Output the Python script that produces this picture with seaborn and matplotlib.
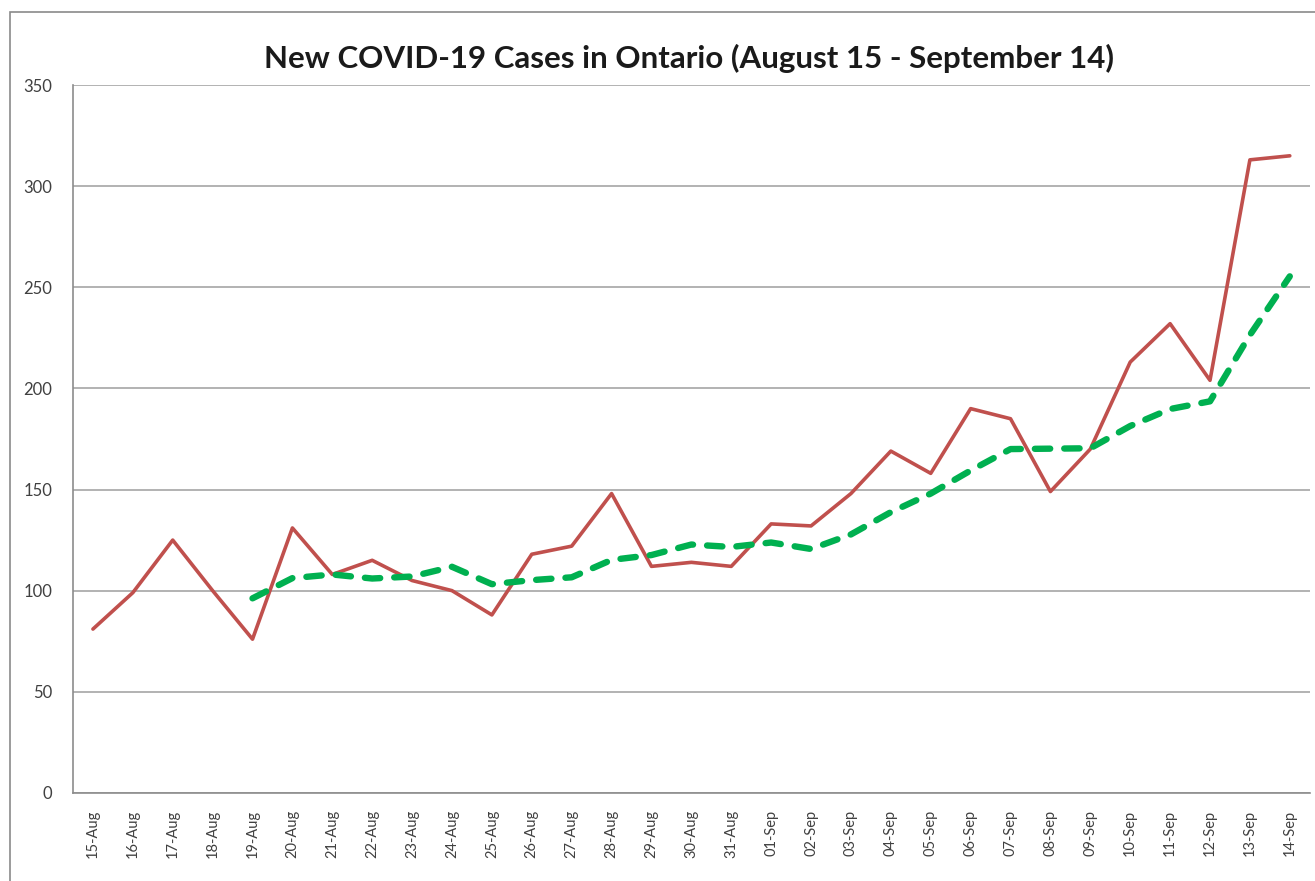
import numpy as np
import pandas as pd
import matplotlib
matplotlib.use("Agg")
import matplotlib.pyplot as plt
import seaborn as sns
from matplotlib.patches import Rectangle


# ======================================================
# Data
# ======================================================
dates = [
    "15-Aug", "16-Aug", "17-Aug", "18-Aug", "19-Aug", "20-Aug", "21-Aug",
    "22-Aug", "23-Aug", "24-Aug", "25-Aug", "26-Aug", "27-Aug", "28-Aug",
    "29-Aug", "30-Aug", "31-Aug", "01-Sep", "02-Sep", "03-Sep", "04-Sep",
    "05-Sep", "06-Sep", "07-Sep", "08-Sep", "09-Sep", "10-Sep", "11-Sep",
    "12-Sep", "13-Sep", "14-Sep",
]

daily_cases = [
    81, 99, 125, 100, 76, 131, 108, 115, 105, 100, 88, 118, 122, 148,
    112, 114, 112, 133, 132, 148, 169, 158, 190, 185, 149, 170, 213,
    232, 204, 313, 315,
]

# rolling average line starts on 19-Aug
avg_dates = dates[4:]
avg_cases = [
    96.2, 106.2, 108.0, 106.0, 107.0, 111.8, 103.2, 105.2, 106.6, 115.2,
    117.6, 122.8, 121.6, 123.8, 120.6, 127.8, 138.8, 148.0, 159.4, 170.0,
    170.2, 170.4, 181.4, 189.8, 193.6, 226.4, 255.4,
]

y_ticks = [0, 50, 100, 150, 200, 250, 300, 350]

df_daily = pd.DataFrame({"pos": np.arange(len(dates)), "cases": daily_cases})
df_avg = pd.DataFrame({"pos": np.arange(4, len(dates)), "cases": avg_cases})


# ======================================================
# Styling
# ======================================================
sns.set_style("white")
plt.rcParams["font.family"] = ["Lato", "DejaVu Sans"]

grey = "#8c8c8c"
red = "#C0504D"
green = "#00B050"

fig = plt.figure(figsize=(13.15, 8.81), dpi=100)
ax = fig.add_axes([0.0555, 0.1, 0.9405, 0.8035])

# chart border like a spreadsheet chart frame
fig.patches.append(Rectangle((10 / 1315, -0.05), 1.2, 1 - 12 / 881 + 0.05,
                             transform=fig.transFigure, fill=False,
                             edgecolor="#8a8a8a", linewidth=1.2))


# ======================================================
# Lines
# ======================================================
sns.lineplot(data=df_daily, x="pos", y="cases", ax=ax, color=red,
             linewidth=2.6, zorder=3)
sns.lineplot(data=df_avg, x="pos", y="cases", ax=ax, color=green,
             linewidth=4.6, zorder=4)
ax.lines[-1].set_dashes((2.4, 2.2))
ax.lines[-1].set_dash_capstyle("round")


# ======================================================
# Axes
# ======================================================
ax.set_xlim(-0.5, len(dates) - 0.5)
ax.set_ylim(0, 350)
ax.set_yticks(y_ticks)
ax.set_yticklabels([str(v) for v in y_ticks], fontsize=12, color="#404040")
ax.yaxis.grid(True, color="#a6a6a6", linewidth=1.2)
ax.set_axisbelow(True)

ax.set_xticks(np.arange(len(dates)))
ax.set_xticklabels(dates, rotation=90, fontsize=10.5, color="#404040")
ax.set_xticks(np.arange(-0.5, len(dates), 1.0), minor=True)
ax.tick_params(axis="x", which="major", length=0, pad=12)
ax.tick_params(axis="x", which="minor", length=5, color=grey, direction="out")
ax.tick_params(axis="y", length=5, color=grey, direction="out", pad=10)

for side in ["top", "right"]:
    ax.spines[side].set_visible(False)
for side in ["left", "bottom"]:
    ax.spines[side].set_color(grey)
    ax.spines[side].set_linewidth(1.2)

ax.set_xlabel("")
ax.set_ylabel("")

fig.text(0.524, 0.934, "New COVID-19 Cases in Ontario (August 15 - September 14)",
         ha="center", va="center", fontsize=22.5, fontweight="bold",
         color="#1a1a1a")

fig.savefig("out.png", dpi=100)
